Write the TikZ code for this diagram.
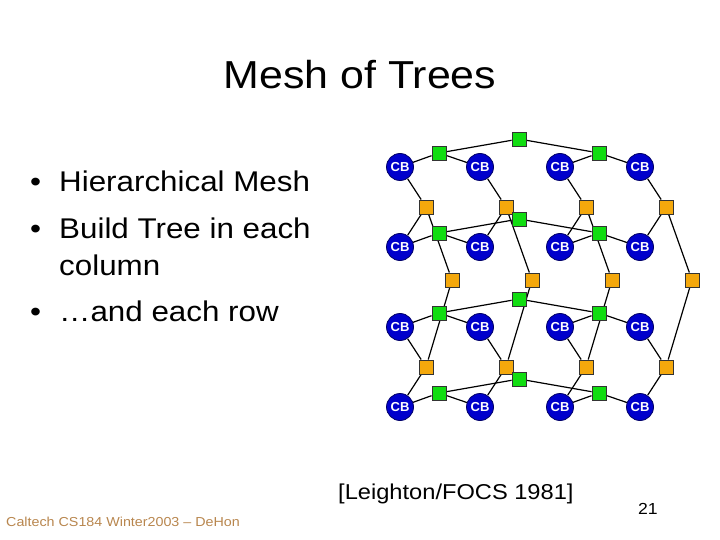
\documentclass[tikz,border=0pt]{standalone}
\usepackage{fontspec}
\setmainfont{Liberation Sans}
\usetikzlibrary{backgrounds}
\definecolor{cbblue}{HTML}{0000CC}
\definecolor{cbedge}{HTML}{000066}
\definecolor{grn}{HTML}{11DD11}
\definecolor{org}{HTML}{F4A80C}
\definecolor{foot}{HTML}{B8864E}
\newcommand{\wide}[1]{\scalebox{1.1}[1]{#1}}
\tikzset{
  cb/.style={circle,fill=cbblue,draw=cbedge,line width=0.8pt,minimum size=27pt,inner sep=0pt,text=white,font=\fontsize{13}{13}\selectfont\bfseries},
  gsq/.style={rectangle,fill=grn,draw=black!80,line width=0.9pt,minimum size=14pt,inner sep=0pt},
  osq/.style={rectangle,fill=org,draw=black!80,line width=0.9pt,minimum size=14pt,inner sep=0pt},
  wire/.style={draw=black,line width=1.2pt},
  bul/.style={anchor=base west,inner sep=0pt,font=\fontsize{28.5}{28.5}\selectfont}
}
\begin{document}
\begin{tikzpicture}[x=1pt,y=-1pt]
\useasboundingbox (0,0) rectangle (720,540);
% title
\node[font=\fontsize{39}{39}\selectfont] (title) at (360,75) {\wide{Mesh of Trees}};
% bullets
\node[bul] (b1) at (30,192) {\wide{•}};
\node[bul] (t1) at (59,192) {\wide{Hierarchical Mesh}};
\node[bul] (b2) at (30,238) {\wide{•}};
\node[bul] (t2) at (59,238) {\wide{Build Tree in each}};
\node[bul] (t3) at (59,275) {\wide{column}};
\node[bul] (b4) at (30,321) {\wide{•}};
\node[bul] (t4) at (59,321) {\wide{…and each row}};
% orange column-tree nodes
\foreach \i/\x in {1/400,2/480,3/560,4/640}{
  \node[osq] (oU\i) at (\x+26,207) {};
  \node[osq] (oM\i) at (\x+52,280) {};
  \node[osq] (oD\i) at (\x+26,367) {};
}
% green row-tree nodes
\foreach \j/\y in {1/167,2/247,3/327,4/407}{
  \node[gsq] (gL\j) at (439,\y-14) {};
  \node[gsq] (gR\j) at (599,\y-14) {};
  \node[gsq] (gT\j) at (519,\y-28) {};
}
% CB nodes
\foreach \i/\x in {1/400,2/480,3/560,4/640}{
  \foreach \j/\y in {1/167,2/247,3/327,4/407}{
    \node[cb] (c\i\j) at (\x,\y) {CB};
  }
}
\begin{scope}[on background layer]
\foreach \j in {1,2,3,4}{
  \draw[wire] (c1\j) -- (gL\j) -- (c2\j);
  \draw[wire] (c3\j) -- (gR\j) -- (c4\j);
  \draw[wire] (gL\j) -- (gT\j) -- (gR\j);
}
\foreach \i in {1,2,3,4}{
  \draw[wire] (c\i1) -- (oU\i) -- (c\i2);
  \draw[wire] (c\i3) -- (oD\i) -- (c\i4);
  \draw[wire] (oU\i) -- (oM\i) -- (oD\i);
}
\end{scope}
% footer
\node[anchor=base west,inner sep=0pt,font=\fontsize{21.5}{21.5}\selectfont] (cite) at (338,499) {\wide{[Leighton/FOCS 1981]}};
\node[anchor=base west,inner sep=0pt,font=\fontsize{16}{16}\selectfont] (num) at (638,514) {\wide{21}};
\node[anchor=base west,inner sep=0pt,text=foot,font=\fontsize{13}{13}\selectfont] (foot) at (6,526) {\wide{Caltech CS184 Winter2003 – DeHon}};
\end{tikzpicture}
\end{document}
